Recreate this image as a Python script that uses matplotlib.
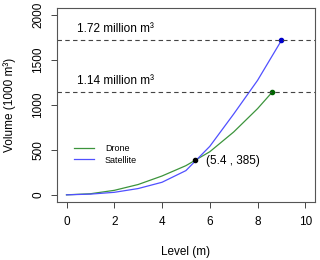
import numpy as np
import matplotlib.pyplot as plt

# volume curves (level in m, volume in 1000 m3)
drone_level = [0, 1, 2, 3, 4, 5, 6, 7, 8, 8.6]
drone_vol = [0, 12, 50, 115, 210, 325, 480, 700, 960, 1140]
sat_level = [0, 1, 2, 3, 4, 5, 6, 7, 8, 9]
sat_vol = [0, 8, 28, 70, 140, 270, 540, 900, 1275, 1720]

cross_pt = (5.4, 385)
max_vols = [1720, 1140]
max_labels = ["1.72 million m\u00b3", "1.14 million m\u00b3"]

plt.rcParams['font.family'] = ['Liberation Sans', 'DejaVu Sans']
fig = plt.figure(figsize=(3.2, 2.6), dpi=100)
ax = fig.add_axes([0.178, 0.223, 0.806, 0.746])

ax.plot(drone_level, drone_vol, color='#3c943c', lw=0.9, label='Drone')
ax.plot(sat_level, sat_vol, color='#5050ff', lw=0.9, label='Satellite')
ax.plot(drone_level[-1], drone_vol[-1], 'o', color='#006400', ms=3)
ax.plot(sat_level[-1], sat_vol[-1], 'o', color='#0000cc', ms=3)
ax.plot(*cross_pt, 'o', color='black', ms=3)
ax.text(cross_pt[0] + 0.42, cross_pt[1] - 10, "(%.1f , %d)" % cross_pt,
        fontsize=8.5, va='center', ha='left')

for v, lab in zip(max_vols, max_labels):
    ax.axhline(v, color='#444444', lw=0.8, ls=(0, (4, 3)))
    ax.text(0.43, v + 60, lab, fontsize=8.5, ha='left', va='bottom')

ax.set_xlim(-0.4, 10.4)
ax.set_ylim(-80, 2080)
ax.set_xticks(np.arange(0, 11, 2))
ax.set_yticks(np.arange(0, 2001, 500))
ax.set_yticklabels([str(t) for t in range(0, 2001, 500)], rotation=90, va='center')
ax.tick_params(labelsize=8.5, length=4, width=0.7, color='#444444')
ax.tick_params(axis='x', pad=6)
ax.tick_params(axis='y', pad=5)
for s in ax.spines.values():
    s.set_color('#555555')
    s.set_linewidth(0.8)

ax.set_xlabel("Level (m)", fontsize=8.5, labelpad=13)
ax.set_ylabel("Volume (1000 m\u00b3)", fontsize=8.5, labelpad=12)

ax.legend(loc='center left', bbox_to_anchor=(0.035, 0.245), frameon=False,
          fontsize=6.5, handlelength=2.2, handletextpad=1.2, labelspacing=0.25)

fig.savefig("out.png", dpi=100)
